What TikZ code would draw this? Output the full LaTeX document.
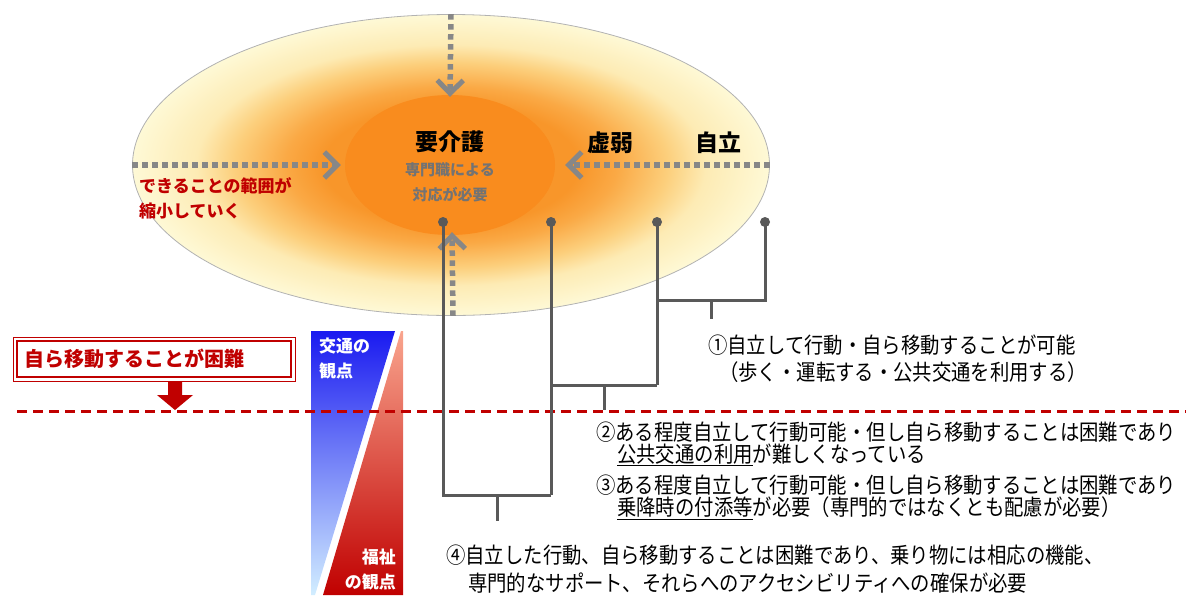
\documentclass[tikz,border=0pt]{standalone}
\usepackage{fontspec}
\newfontfamily\jp[FakeStretch=0.88]{Noto Sans CJK JP}
\newfontfamily\jpw{Noto Sans CJK JP}
\usetikzlibrary{arrows.meta}
\usetikzlibrary{shapes.geometric}
\usetikzlibrary{positioning}
\definecolor{paleyel}{HTML}{FEF9D6}
\definecolor{yelmid}{HTML}{FDEBB4}
\definecolor{orngmid}{HTML}{FCCF7C}
\definecolor{ornglt}{HTML}{FAA945}
\definecolor{orngdeep}{HTML}{F8962A}
\definecolor{corefill}{HTML}{F98C1E}
\definecolor{arrowgray}{HTML}{878787}
\definecolor{pingray}{HTML}{595959}
\definecolor{redline}{HTML}{C00000}
\definecolor{bluetop}{HTML}{1A1AF0}
\definecolor{bluemid}{HTML}{6E82FF}
\definecolor{bluebot}{HTML}{D2EEFF}
\definecolor{redtop}{HTML}{F9A58E}
\definecolor{redmid}{HTML}{E0553F}
\pgfdeclareradialshading{eggshade}{\pgfpoint{0bp}{0bp}}{color(0bp)=(orngdeep); color(10bp)=(orngdeep); color(13bp)=(ornglt); color(17bp)=(orngmid); color(20bp)=(yelmid); color(25bp)=(paleyel); color(50bp)=(paleyel)}
\tikzstyle{dotarrow}=[draw=arrowgray, line width=5.5pt, dash pattern=on 5.5pt off 4.5pt, -{Straight Barb[length=13pt,width=26pt,line width=5pt]}]
\tikzstyle{pin}=[draw=pingray, line width=3pt]
\tikzstyle{dot}=[circle, fill=pingray, inner sep=0pt, minimum size=10pt]
\tikzstyle{txt}=[anchor=west, inner sep=0pt, font=\jp\fontsize{22}{24}\selectfont]
\tikzstyle{stage}=[inner sep=0pt, font=\jpw\bfseries\fontsize{23}{25}\selectfont]
\tikzstyle{note}=[inner sep=0pt, text=gray!90!black, font=\jpw\bfseries\fontsize{15}{17}\selectfont]
\tikzstyle{lbl}=[inner sep=0pt, text=white, font=\jpw\bfseries\fontsize{17}{19}\selectfont]

\begin{document}
\begin{tikzpicture}[x=1pt,y=-1pt]
		\useasboundingbox (0,0) rectangle (1196,595);
		% the shrinking zone
		\node[ellipse, draw=gray!60, line width=0.8pt, shading=eggshade, minimum width=637pt, minimum height=301pt, inner sep=0pt] (zone) at (451,165) {};
		\node[ellipse, fill=corefill, minimum width=210pt, minimum height=140pt, inner sep=0pt] (core) at (450,165) {};
		\node[stage] (kaigo) at (450,142) {要介護};
		\node[note] (senmon) at (450,170) {専門職による};
		\node[note] (taiou) at (450,195) {対応が必要};
		\node[stage] (kyojaku) at (610,143) {虚弱};
		\node[stage] (jiritsu) at (718,143) {自立};
		\node[anchor=west, inner sep=0pt, text=redline, align=left, font=\jpw\bfseries\fontsize{17}{25}\selectfont] (shukusho) at (139,198) {できることの範囲が\\縮小していく};
%
		\draw[dotarrow] (zone.north) -- ([yshift=-2pt]core.north);
		\draw[dotarrow] (zone.west) -- ([xshift=-4pt]core.west);
		\draw[dotarrow] (zone.east) -- ([xshift=10pt]core.east);
		\draw[dotarrow] ([xshift=2pt]zone.south) -- ([xshift=2pt,yshift=3pt]core.south);
%
		% viewpoint column
		\shade[top color=bluetop, middle color=bluemid, bottom color=bluebot] (311,331) -- (395,331) -- (315,595) -- (311,595) -- cycle;
		\shade[top color=redtop, middle color=redmid, bottom color=redline] (401,331) -- (403,331) -- (403,595) -- (323,595) -- cycle;
		\node[lbl, anchor=north west, align=left, font=\jpw\bfseries\fontsize{17}{25}\selectfont] (koutsu) at (319,338) {交通の\\観点};
		\node[lbl, anchor=south east, align=right, font=\jpw\bfseries\fontsize{17}{25}\selectfont] (fukushi) at (396,590) {福祉\\の観点};
%
		% difficulty border
		\node[draw=redline, line width=1pt, minimum width=282pt, minimum height=44pt, inner sep=0pt] (frame) at (154,359) {};
		\node[draw=redline, line width=1.5pt, minimum width=274pt, minimum height=36pt, anchor=center, inner sep=0pt, fill=white] (konnan) at (frame.center) {};
		\node[anchor=west, inner sep=0pt, text=redline, font=\jpw\bfseries\fontsize{20}{22}\selectfont] (konnantxt) at (24,359) {自ら移動することが困難};
		\coordinate (border) at (175,410);
		\fill[redline] (168,381) -- (182,381) -- (182,395) -- (193,395) -- (border) -- (157,395) -- (168,395) -- cycle;
		\coordinate (bl) at (17,411);
		\coordinate (br) at (1186,411);
		\draw[redline, line width=3pt, dash pattern=on 10pt off 6pt] (bl) -- (br);
%
		% brackets
		\node[dot] (p1) at (443,222) {};
		\node[dot] (p2) at (551,222) {};
		\node[dot] (p3) at (657,222) {};
		\node[dot] (p4) at (765,222) {};
		\coordinate (j1) at (657,300);
		\coordinate (j2) at (657,385);
		\coordinate (j3) at (551,495);
		\draw[pin] (p4.center) |- (j1);
		\draw[pin] (p3.center) -- (j2);
		\draw[pin] (p2.center) |- (j2);
		\draw[pin] (p2.center) -- (j3);
		\draw[pin] (p1.center) |- (j3);
		\draw[pin] (711,300) -- (711,319);
		\draw[pin] (604,385) -- (604,410);
		\draw[pin] (497,495) -- (497,521);
%
		% levels
		\node[txt] (lv1) at (708,345) {①自立して行動・自ら移動することが可能};
		\node[txt] (lv1b) at (719,372) {（歩く・運転する・公共交通を利用する）};
		\node[txt] (lv2) at (596,432) {②ある程度自立して行動可能・但し自ら移動することは困難であり};
		\node[txt] (lv2b) at (617,455) {\underline{公共交通の利用}が難しくなっている};
		\node[txt] (lv3) at (596,485) {③ある程度自立して行動可能・但し自ら移動することは困難であり};
		\node[txt] (lv3b) at (617,508) {\underline{乗降時の付添等}が必要（専門的ではなくとも配慮が必要）};
		\node[txt] (lv4) at (446,555) {④自立した行動、自ら移動することは困難であり、乗り物には相応の機能、};
		\node[txt] (lv4b) at (468,583) {専門的なサポート、それらへのアクセシビリティへの確保が必要};
\end{tikzpicture}
\end{document}
